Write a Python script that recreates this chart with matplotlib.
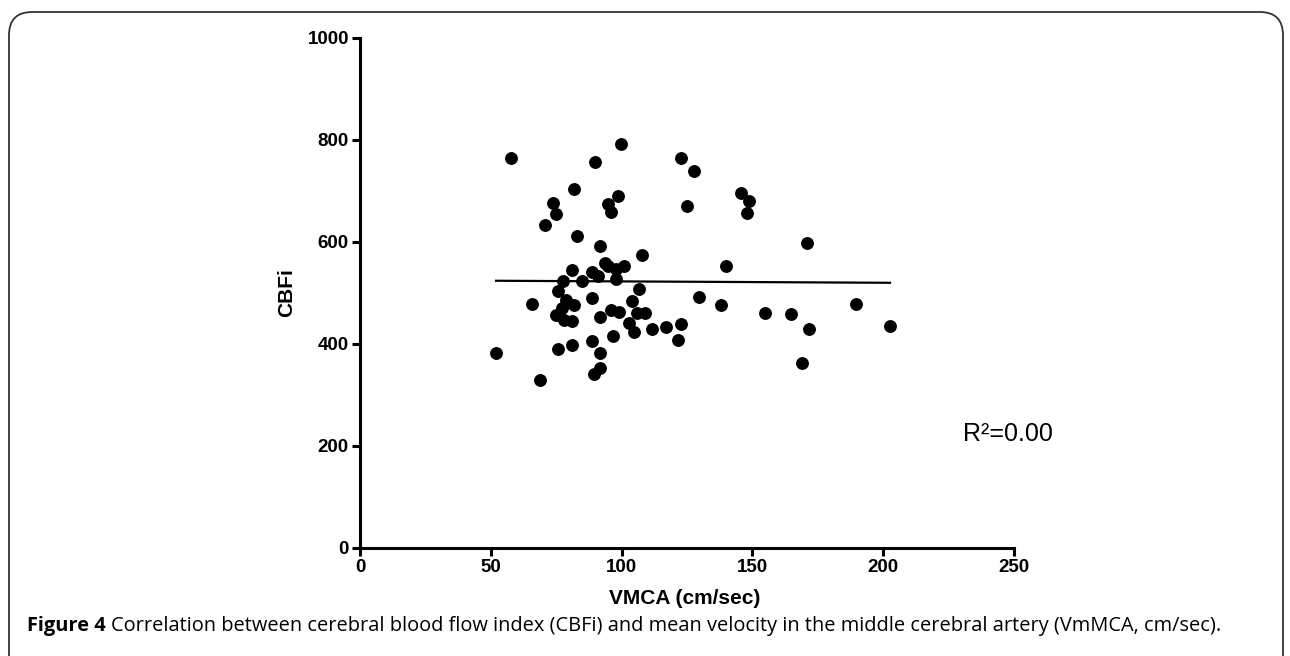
import numpy as np
import matplotlib
matplotlib.use("Agg")
import matplotlib.pyplot as plt
from matplotlib.patches import FancyBboxPatch

# values
vmca = [57.7, 99.8, 89.7, 122.7, 127.8, 81.8, 73.9, 74.9, 70.7, 98.8,
        94.9, 95.8, 124.9, 82.8, 91.7, 107.8, 139.8, 80.9, 88.6, 91.1,
        93.7, 94.9, 97.7, 100.9, 97.9, 77.7, 84.7, 75.8, 106.8, 88.8,
        65.9, 78.7, 81.9, 77.1, 74.9, 78.0, 80.9, 103.8, 95.8, 99.0,
        91.7, 105.8, 108.9, 102.8, 104.7, 111.7, 116.8, 122.7, 129.7, 137.9,
        121.7, 96.8, 88.6, 80.9, 75.8, 52.0, 91.7, 91.7, 89.6, 68.8,
        145.6, 148.8, 147.8, 170.7, 154.8, 164.8, 189.6, 171.8, 202.6, 168.8]
cbfi = [765, 793, 757, 765, 740, 703, 676, 655, 633, 690,
        674, 659, 671, 612, 593, 574, 553, 545, 542, 533,
        559, 552, 548, 552, 527, 524, 524, 504, 508, 491,
        478, 486, 476, 470, 456, 448, 446, 485, 467, 462,
        452, 461, 461, 442, 424, 429, 433, 440, 492, 476,
        407, 416, 405, 398, 390, 382, 383, 352, 341, 329,
        697, 681, 657, 599, 460, 459, 478, 429, 435, 363]
fit_slope = -0.0265
fit_intercept = 525.4
xticks = [0, 50, 100, 150, 200, 250]
yticks = [0, 200, 400, 600, 800, 1000]
r2_text = "R\u00b2=0.00"

fig = plt.figure(figsize=(12.9, 6.56), dpi=100)
ax = fig.add_axes([360/1290, 1-548/656, 654/1290, 510/656])

# rounded frame around the figure, open at the bottom
frame = FancyBboxPatch((9/1290, -0.1), 1274/1290, 1.1 - 12/656,
                       boxstyle="round,pad=0,rounding_size=0.018",
                       transform=fig.transFigure, fill=False,
                       edgecolor="#333333", linewidth=1.3,
                       mutation_aspect=1290/656)
fig.patches.append(frame)

ax.scatter(vmca, cbfi, s=68, color="black", zorder=3, clip_on=False)
fx = np.array([min(vmca), max(vmca)])
ax.plot(fx, fit_intercept + fit_slope*fx, color="black", lw=1.6)

ax.set_xlim(0, 250)
ax.set_ylim(0, 1000)
ax.set_xticks(xticks)
ax.set_yticks(yticks)
for s in ["top", "right"]:
    ax.spines[s].set_visible(False)
for s in ["left", "bottom"]:
    ax.spines[s].set_linewidth(2.2)
ax.tick_params(width=2.2, length=6, pad=2)
for lab in ax.get_xticklabels() + ax.get_yticklabels():
    lab.set_fontfamily("Liberation Sans")
    lab.set_fontweight("bold")
    lab.set_fontsize(13.5)

fig.text(685/1290, 1 - 598/656, "VMCA (cm/sec)", fontfamily="Liberation Sans",
         fontweight="bold", fontsize=15, ha="center", va="center")
ax.set_ylabel("CBFi", fontfamily="Liberation Sans",
              fontweight="bold", fontsize=15)
ax.yaxis.set_label_coords(-0.098, 0.5)

ax.text(230.5, 223, r2_text, fontfamily="Liberation Sans",
        fontsize=18, va="center", ha="left")

# caption: bold lead-in then normal text
cy = 1 - 626/656
t1 = fig.text(27/1290, cy, "Figure 4", fontfamily="Open Sans",
              fontweight="bold", fontsize=14.4, va="center")
fig.canvas.draw()
bb = t1.get_window_extent(renderer=fig.canvas.get_renderer())
fig.text(bb.x1/1290 + 5/1290, cy,
         "Correlation between cerebral blood flow index (CBFi) and mean velocity "
         "in the middle cerebral artery (VmMCA, cm/sec).",
         fontfamily="Open Sans", fontsize=14.4, va="center")

fig.savefig("out.png", dpi=100)
